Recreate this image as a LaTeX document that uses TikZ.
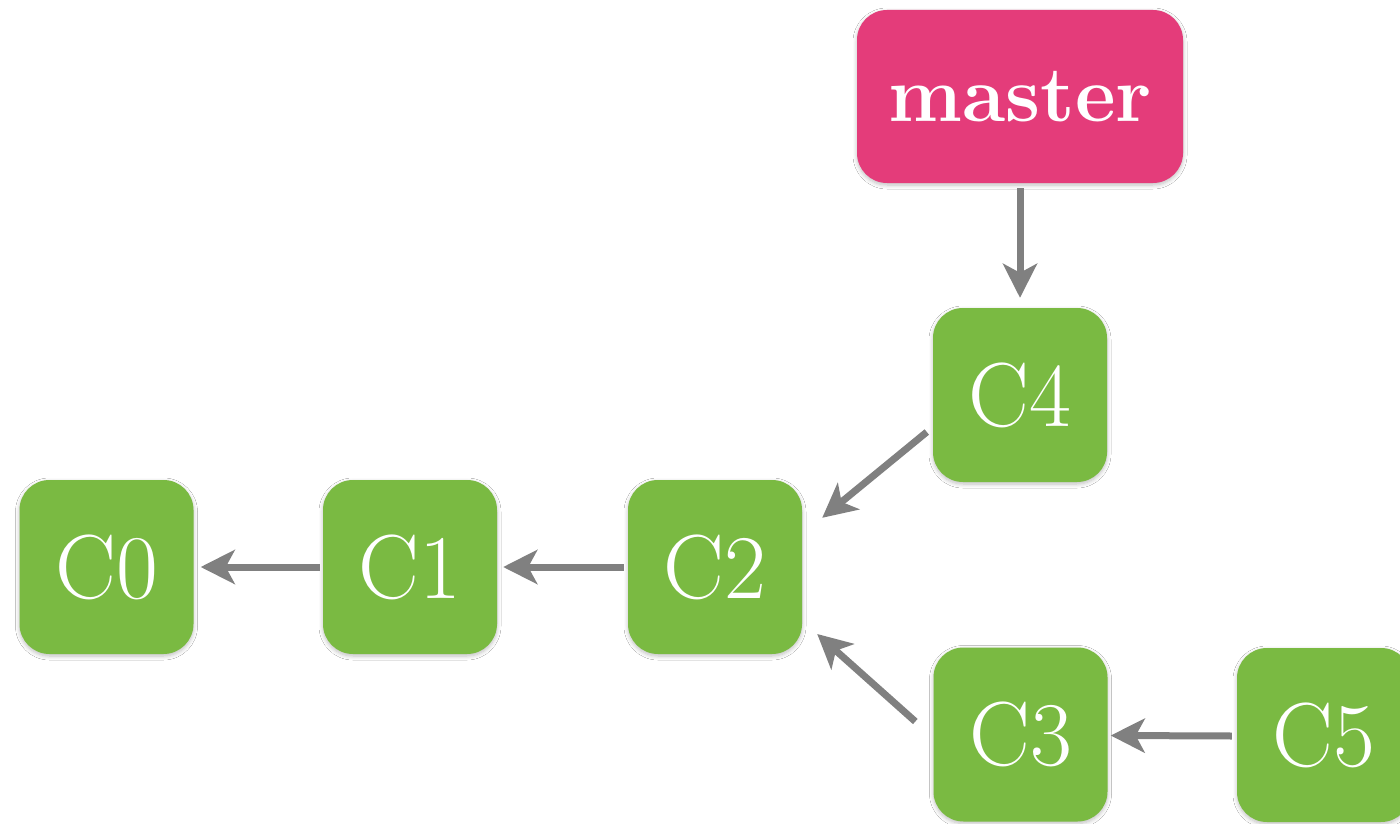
\documentclass[tikz,border=0pt]{standalone}
\usetikzlibrary{arrows.meta,calc,shadows.blur}
\definecolor{cgreen}{RGB}{122,186,66}
\definecolor{cpink}{RGB}{228,60,122}
\definecolor{carrow}{RGB}{128,128,128}
\begin{document}
\begin{tikzpicture}[x=1pt,y=-1pt,
  box/.style={rounded corners=30pt, inner sep=0pt, text=white,
    blur shadow={shadow blur steps=6, shadow xshift=0pt, shadow yshift=-2pt, shadow opacity=25, shadow blur radius=4pt}},
  commit/.style={box, fill=cgreen, minimum width=174pt, minimum height=174pt,
    font=\fontsize{91}{95}\selectfont},
  branch/.style={box, fill=cpink, minimum width=326pt, minimum height=173pt,
    font=\fontsize{79}{83}\selectfont\bfseries},
  link/.style={draw=carrow, line width=7pt, -{Stealth[length=34pt,width=34pt,inset=9pt]}}]
\useasboundingbox (0,0) rectangle (1400,824);
\clip (0,0) rectangle (1400,824);
\fill[white] (0,0) rectangle (1400,824);
\node[branch] (master) at (1020,96.5) {master};
\node[commit] (c4) at (1020,395) {C4};
\node[commit] (c0) at (106.5,567) {C0};
\node[commit] (c1) at (410,567) {C1};
\node[commit] (c2) at (715,567) {C2};
\node[commit] (c3) at (1020.5,734.5) {C3};
\node[commit] (c5) at (1324,735) {C5};
\draw[link] ($(master.south)+(0,5)$) -- ($(c4.north)+(0,-10)$);
\draw[link] ($(c4.west)+(-6,37)$) -- ($(c2.north east)+(20,38)$);
\draw[link] ($(c3.west)+(-18,-13)$) -- ($(c2.east)+(15,67)$);
\draw[link] ($(c1.west)+(-3,0)$) -- ($(c0.east)+(7,0)$);
\draw[link] ($(c2.west)+(-4,0)$) -- ($(c1.east)+(6,0)$);
\draw[link] ($(c5.west)+(-5,1)$) -- ($(c3.east)+(3,1)$);
\end{tikzpicture}
\end{document}
